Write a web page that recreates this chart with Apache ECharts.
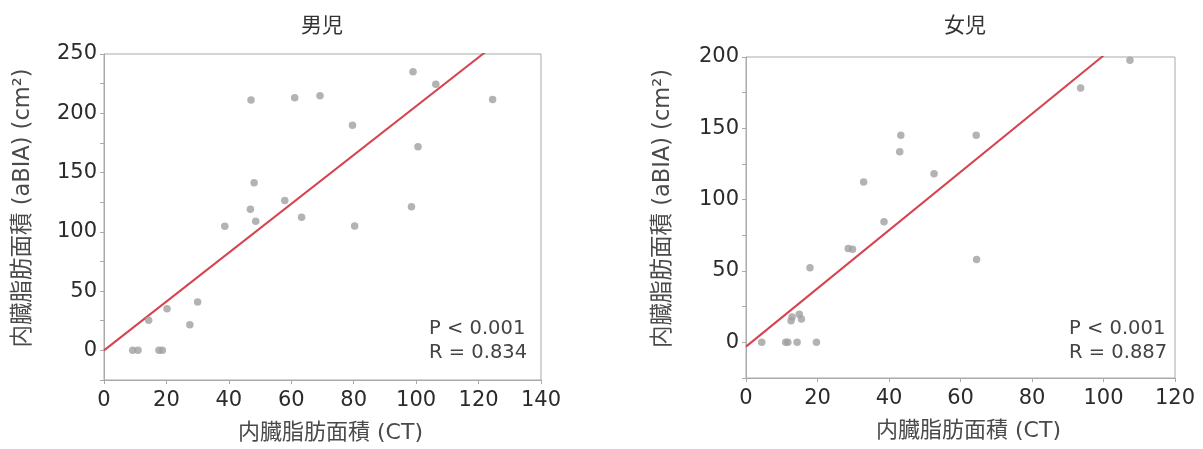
<!DOCTYPE html>
<html>
<head>
<meta charset="utf-8">
<script src="https://cdn.jsdelivr.net/npm/echarts@6/dist/echarts.min.js"></script>
<style>
html,body{margin:0;padding:0;background:#fff;}
#c{width:1203px;height:449px;}
</style>
</head>
<body>
<div id="c"></div>
<script>
// ---- Data ----
var titles = ['男児', '女児'];
var xAxisName = '内臓脂肪面積 (CT)';
var yAxisName = '内臓脂肪面積 (aBIA) (cm²)';

var boysCT   = [9.2, 10.9, 17.6, 18.7, 14.3, 20.2, 27.5, 30.0, 38.7, 47.1, 48.1, 46.9, 48.6, 57.9, 63.3, 61.1, 69.2, 79.6, 80.3, 99.0, 106.3, 100.6, 98.5, 124.5];
var boysBIA  = [0, 0, 0, 0, 25.3, 35.2, 21.7, 40.8, 104.7, 211.1, 141.3, 119.1, 109.0, 126.4, 112.3, 213.1, 214.8, 190.0, 105.0, 235.1, 224.4, 171.7, 121.1, 211.7];

var girlsCT  = [4.4, 11.1, 11.7, 14.3, 19.7, 12.6, 12.9, 14.9, 15.5, 17.9, 28.6, 29.8, 32.9, 38.6, 43.0, 43.3, 52.6, 64.4, 64.5, 93.6, 107.4];
var girlsBIA = [0, 0, 0, 0, 0, 15.2, 17.8, 19.6, 16.4, 52.3, 65.8, 65.3, 112.3, 84.5, 133.5, 145.2, 118.1, 145.2, 58.1, 178.3, 197.7];

var boysFit  = {slope: 2.06, intercept: 0};
var girlsFit = {slope: 2.04, intercept: -3};

var boysStats  = ['P < 0.001', 'R = 0.834'];
var girlsStats = ['P < 0.001', 'R = 0.887'];

var boysX  = {min: 0, max: 140, interval: 20};
var boysY  = {min: -25, max: 250, interval: 25};
var girlsX = {min: 0, max: 120, interval: 20};
var girlsY = {min: -25, max: 200, interval: 25};

// ---- Build ----
function pairs(xs, ys){ return xs.map(function(v,i){ return [v, ys[i]]; }); }
function fitLine(fit, xr){ return [[xr.min, fit.intercept + fit.slope*xr.min],[xr.max, fit.intercept + fit.slope*xr.max]]; }

var CJK = '"Noto Sans CJK JP", "Noto Sans", sans-serif';
var NUM = '"DejaVu Sans", "Noto Sans CJK JP", sans-serif';
var axisCol = '#aaaaaa';
var txtCol = '#2b2b2b';
var nameCol = '#4a4a4a';

function xAxisCfg(idx, r){
  return {
    type: 'value', gridIndex: idx, min: r.min, max: r.max, interval: r.interval,
    name: xAxisName, nameLocation: 'middle', nameGap: 42,
    nameTextStyle: {fontFamily: NUM, fontSize: 22, color: nameCol, padding: [0, 0, 0, 16]},
    axisLine: {show: true, onZero: false, lineStyle: {color: axisCol}},
    axisTick: {show: true, length: 4, lineStyle: {color: axisCol}},
    axisLabel: {fontFamily: NUM, fontSize: 21, color: txtCol, margin: 10},
    splitLine: {show: false}
  };
}
function yAxisCfg(idx, r, gap){
  return {
    type: 'value', gridIndex: idx, min: r.min, max: r.max, interval: r.interval,
    name: yAxisName, nameLocation: 'middle', nameGap: gap, nameRotate: 90,
    nameTextStyle: {fontFamily: NUM, fontSize: 22.5, color: nameCol, padding: [0, 0, 0, 18]},
    axisLine: {show: true, onZero: false, lineStyle: {color: axisCol}},
    axisTick: {show: true, length: 4, lineStyle: {color: axisCol}},
    axisLabel: {fontFamily: NUM, fontSize: 21, color: txtCol, margin: 7,
      formatter: function(v){ return (v >= 0 && v % 50 === 0) ? String(v) : ''; }},
    splitLine: {show: false}
  };
}

var chart = echarts.init(document.getElementById('c'));
chart.setOption({
  backgroundColor: '#fff',
  animation: false,
  title: [
    {text: titles[0], left: 317, top: 9, textAlign: 'center', textStyle: {fontFamily: CJK, fontSize: 21, fontWeight: 'normal', color: '#333'}},
    {text: titles[1], left: 960, top: 9, textAlign: 'center', textStyle: {fontFamily: CJK, fontSize: 21, fontWeight: 'normal', color: '#333'}}
  ],
  grid: [
    {left: 104, top: 54, width: 437, height: 326, show: true, borderColor: axisCol, borderWidth: 1, backgroundColor: 'transparent'},
    {left: 746, top: 57, width: 429, height: 321, show: true, borderColor: axisCol, borderWidth: 1, backgroundColor: 'transparent'}
  ],
  xAxis: [xAxisCfg(0, boysX), xAxisCfg(1, girlsX)],
  yAxis: [yAxisCfg(0, boysY, 70), yAxisCfg(1, girlsY, 72)],
  series: [
    {type: 'scatter', xAxisIndex: 0, yAxisIndex: 0, data: pairs(boysCT, boysBIA), symbolSize: 7.5, itemStyle: {color: '#a0a0a0'}, z: 3},
    {type: 'line', xAxisIndex: 0, yAxisIndex: 0, data: fitLine(boysFit, boysX), showSymbol: false, clip: true, lineStyle: {color: '#d6434f', width: 2}, z: 2},
    {type: 'scatter', xAxisIndex: 1, yAxisIndex: 1, data: pairs(girlsCT, girlsBIA), symbolSize: 7.5, itemStyle: {color: '#a0a0a0'}, z: 3},
    {type: 'line', xAxisIndex: 1, yAxisIndex: 1, data: fitLine(girlsFit, girlsX), showSymbol: false, clip: true, lineStyle: {color: '#d6434f', width: 2}, z: 2}
  ],
  graphic: [
    {type: 'text', left: 429, top: 317, style: {text: boysStats.join('\n'), font: '19.5px ' + NUM, fill: '#444', lineHeight: 24}},
    {type: 'text', left: 1069, top: 317, style: {text: girlsStats.join('\n'), font: '19.5px ' + NUM, fill: '#444', lineHeight: 24}}
  ]
});
</script>
</body>
</html>
